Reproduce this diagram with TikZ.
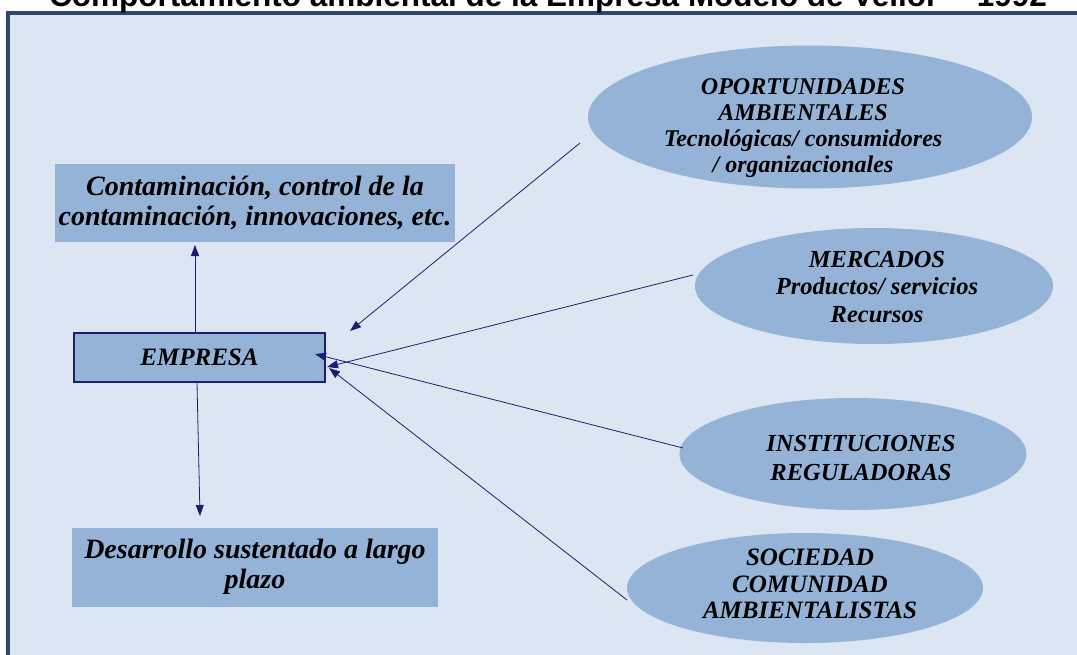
\documentclass[tikz,border=0pt]{standalone}
\usepackage{fontspec}
\setmainfont{Liberation Serif}
\newfontfamily\titlefont{Liberation Sans}
\usetikzlibrary{arrows.meta,shapes.geometric}
\definecolor{bgblue}{HTML}{DCE6F2}
\definecolor{boxblue}{HTML}{95B3D7}
\definecolor{framec}{HTML}{2C4770}
\definecolor{arrowc}{HTML}{1C1C70}
\tikzset{
  rbox/.style={rectangle, fill=boxblue, inner sep=0pt, align=center,
    font=\fontsize{28}{30}\selectfont\bfseries\itshape},
  ell/.style={ellipse, fill=boxblue, inner sep=0pt},
  etext/.style={align=center, inner sep=0pt},
  conn/.style={arrowc, line width=0.8pt, -{Triangle[length=11pt,width=8pt]}}
}
\begin{document}
\begin{tikzpicture}[x=1pt,y=-1pt]
\useasboundingbox (0,0) rectangle (1077,654);
\fill[white] (0,0) rectangle (1077,654);
\draw[framec, line width=3.5pt, fill=bgblue] (8,13) rectangle (1100,690);
\node[anchor=base, font=\titlefont\fontsize{31.5}{34}\selectfont\bfseries] (title) at (548,6)
  {Comportamiento ambiental de la Empresa Modelo de Vellor -- 1992};

\node[rbox, minimum width=400pt, minimum height=78pt] (cont) at (255,203)
  {Contaminación, control de la\\contaminación, innovaciones, etc.};
\node[rbox, minimum width=251pt, minimum height=49pt, draw=arrowc, line width=1.5pt,
  font=\fontsize{25}{28}\selectfont\bfseries\itshape] (emp) at (199.5,357.5) {EMPRESA};
\node[rbox, minimum width=366pt, minimum height=79pt] (des) at (255,567)
  {Desarrollo sustentado a largo\\plazo};

\node[ell, minimum width=444pt, minimum height=143pt] (opo) at (810,117) {};
\node[etext, font=\fontsize{24}{26}\selectfont\bfseries\itshape] (opot) at (803,128)
  {OPORTUNIDADES\\AMBIENTALES\\Tecnológicas/ consumidores\\/ organizacionales};

\node[ell, minimum width=358pt, minimum height=116pt] (mer) at (874,286) {};
\node[etext, font=\fontsize{24.5}{27.5}\selectfont\bfseries\itshape] (mert) at (877,287)
  {MERCADOS\\Productos/ servicios\\Recursos};

\node[ell, minimum width=347pt, minimum height=112pt] (ins) at (853,454) {};
\node[etext, font=\fontsize{24.5}{29}\selectfont\bfseries\itshape] (inst) at (861,458)
  {INSTITUCIONES\\REGULADORAS};

\node[ell, minimum width=356pt, minimum height=110pt] (soc) at (805,588) {};
\node[etext, font=\fontsize{25}{26.5}\selectfont\bfseries\itshape] (soct) at (810,584)
  {SOCIEDAD\\COMUNIDAD\\AMBIENTALISTAS};

\coordinate (empT) at (195,333);
\coordinate (empB) at (197,383);
\coordinate (contB) at (195,245);
\coordinate (desT) at (200,516);
\coordinate (opoS) at (580,143);
\coordinate (opoE) at (350,331);
\coordinate (merS) at (693,275);
\coordinate (merE) at (327,367);
\coordinate (insS) at (683,448);
\coordinate (insE) at (315,354);
\coordinate (socS) at (627,600);
\coordinate (socE) at (329,368);

\draw[conn] (empT) -- (contB);
\draw[conn] (empB) -- (desT);
\draw[conn] (opoS) -- (opoE);
\draw[conn] (merS) -- (merE);
\draw[conn] (insS) -- (insE);
\draw[conn] (socS) -- (socE);
\end{tikzpicture}
\end{document}
